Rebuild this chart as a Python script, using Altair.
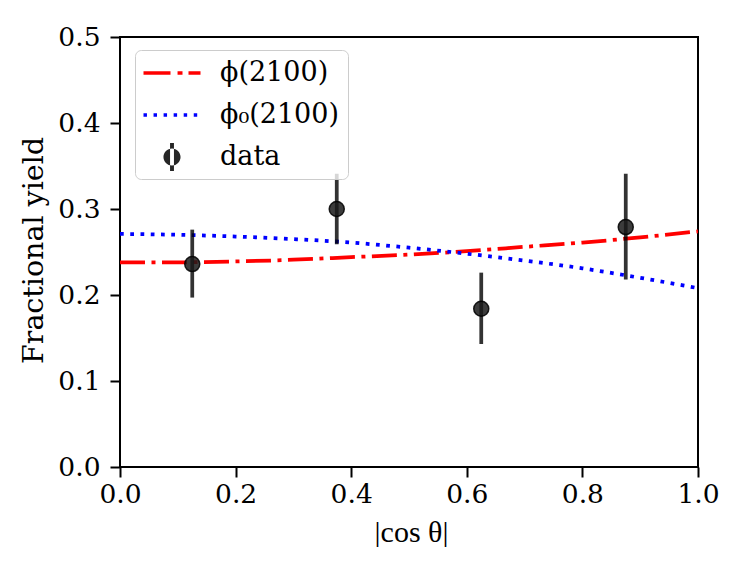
import altair as alt
import pandas as pd

# ---- data ----
curve_x = [0.0, 0.1, 0.2, 0.3, 0.4, 0.5, 0.6, 0.7, 0.8, 0.9, 1.0]
phi_y = [0.238, 0.238, 0.239, 0.241, 0.244, 0.247, 0.251, 0.256, 0.261, 0.267, 0.274]
phi0_y = [0.271, 0.270, 0.268, 0.265, 0.261, 0.255, 0.248, 0.240, 0.231, 0.220, 0.208]

data_x = [0.125, 0.375, 0.625, 0.875]
data_y = [0.236, 0.300, 0.184, 0.279]
data_lo = [0.197, 0.259, 0.143, 0.218]
data_hi = [0.276, 0.341, 0.226, 0.341]

legend_labels = ["ϕ(2100)", "ϕ₀(2100)", "data"]
legend_colors = ["#ff0000", "#0000ff", "#262626"]

x_ticks = [0.0, 0.2, 0.4, 0.6, 0.8, 1.0]
y_ticks = [0.0, 0.1, 0.2, 0.3, 0.4, 0.5]

x_title = "|cos θ|"
y_title = "Fractional yield"

# ---- legend symbol shapes (unit = 15 px; x spans -1.9..1.9 = 57 px) ----
red_path = ("M-1.9,-0.12H-0.1V0.12H-1.9Z "
            "M0.37,-0.12H0.7V0.12H0.37Z "
            "M1.1,-0.12H1.9V0.12H1.1Z")
blue_path = " ".join(
    f"M{s},-0.12H{round(s + 0.23, 3)}V0.12H{s}Z"
    for s in [-1.9, -1.23, -0.56, 0.11, 0.78, 1.45]
)
data_path = ("M-0.57,0A0.57,0.57 0 1,0 0.57,0A0.57,0.57 0 1,0 -0.57,0Z "
             "M-0.13,-0.93H0.13V0.93H-0.13Z")
legend_shapes = [red_path, blue_path, data_path]

phi_df = pd.DataFrame({"x": curve_x, "y": phi_y})
phi0_df = pd.DataFrame({"x": curve_x, "y": phi0_y})
pts_df = pd.DataFrame({"x": data_x, "y": data_y, "lo": data_lo, "hi": data_hi})
leg_df = pd.DataFrame({"x": [0.5] * 3, "y": [0.25] * 3, "s": legend_labels})

xscale = alt.Scale(domain=[0, 1], nice=False, zero=False)
yscale = alt.Scale(domain=[0, 0.5], nice=False, zero=False)

xaxis = alt.Axis(
    values=x_ticks, format=".1f", grid=False, domain=False,
    labelFont="DejaVu Serif", labelFontSize=26.5, labelColor="black",
    labelPadding=4, labelFlush=False, labelOverlap=False,
    tickColor="black", tickSize=10, tickWidth=2,
    title=x_title, titleFont="Liberation Serif", titleFontSize=30,
    titleFontWeight="normal", titleColor="black",
    titleX=291, titleY=65, titleBaseline="middle", titleAlign="center",
)
yaxis = alt.Axis(
    values=y_ticks, format=".1f", grid=False, domain=False,
    labelFont="DejaVu Serif", labelFontSize=26.5, labelColor="black",
    labelPadding=10, labelFlush=False, labelOverlap=False,
    tickColor="black", tickSize=10, tickWidth=2,
    title=y_title, titleFont="DejaVu Serif", titleFontSize=28.5,
    titleFontWeight="normal", titleColor="black",
    titleX=-87, titleY=213, titleBaseline="middle", titleAlign="center",
)

base_x = alt.X("x:Q", scale=xscale, axis=xaxis)
base_y = alt.Y("y:Q", scale=yscale, axis=yaxis)

red_line = alt.Chart(phi_df).mark_line(
    color="#ff0000", strokeWidth=3.75, strokeDash=[25, 6.5, 4, 6.5],
    interpolate="monotone", clip=True,
).encode(x=base_x, y=base_y)

blue_line = alt.Chart(phi0_df).mark_line(
    color="#0000ff", strokeWidth=3.75, strokeDash=[3.75, 6.5],
    interpolate="monotone", clip=True,
).encode(x=base_x, y=base_y)

bars = alt.Chart(pts_df).mark_rule(
    color="#000000", opacity=0.8, strokeWidth=3.75
).encode(x=base_x, y=alt.Y("lo:Q", scale=yscale, axis=yaxis), y2="hi:Q")

points = alt.Chart(pts_df).mark_point(
    filled=True, size=227, fill="#1a1a1a", fillOpacity=0.85,
    stroke="#000000", strokeWidth=1.5, strokeOpacity=0.85,
).encode(x=base_x, y=base_y)

leg = alt.Legend(
    orient="none", legendX=15, legendY=13, title=None,
    symbolSize=900, symbolOpacity=1, symbolStrokeWidth=0, symbolOffset=14,
    labelFont="DejaVu Serif", labelFontSize=27, labelColor="black",
    labelOffset=33, fillColor="rgba(255,255,255,0.8)",
    strokeColor="#cccccc", cornerRadius=6, padding=8, rowPadding=14,
)

legend_layer = alt.Chart(leg_df).mark_point(filled=True, opacity=0).encode(
    x=base_x, y=base_y,
    color=alt.Color("s:N", scale=alt.Scale(domain=legend_labels, range=legend_colors), legend=leg),
    shape=alt.Shape("s:N", scale=alt.Scale(domain=legend_labels, range=legend_shapes), legend=leg),
)

chart = alt.layer(red_line, blue_line, bars, points, legend_layer).properties(
    width=578, height=430,
    autosize=alt.AutoSizeParams(type="none"),
    padding={"left": 112, "top": 29, "right": 40, "bottom": 80},
    background="white",
).configure_view(stroke="black", strokeWidth=2)

chart.save("out.html", embed_options={"renderer": "svg", "actions": False})
